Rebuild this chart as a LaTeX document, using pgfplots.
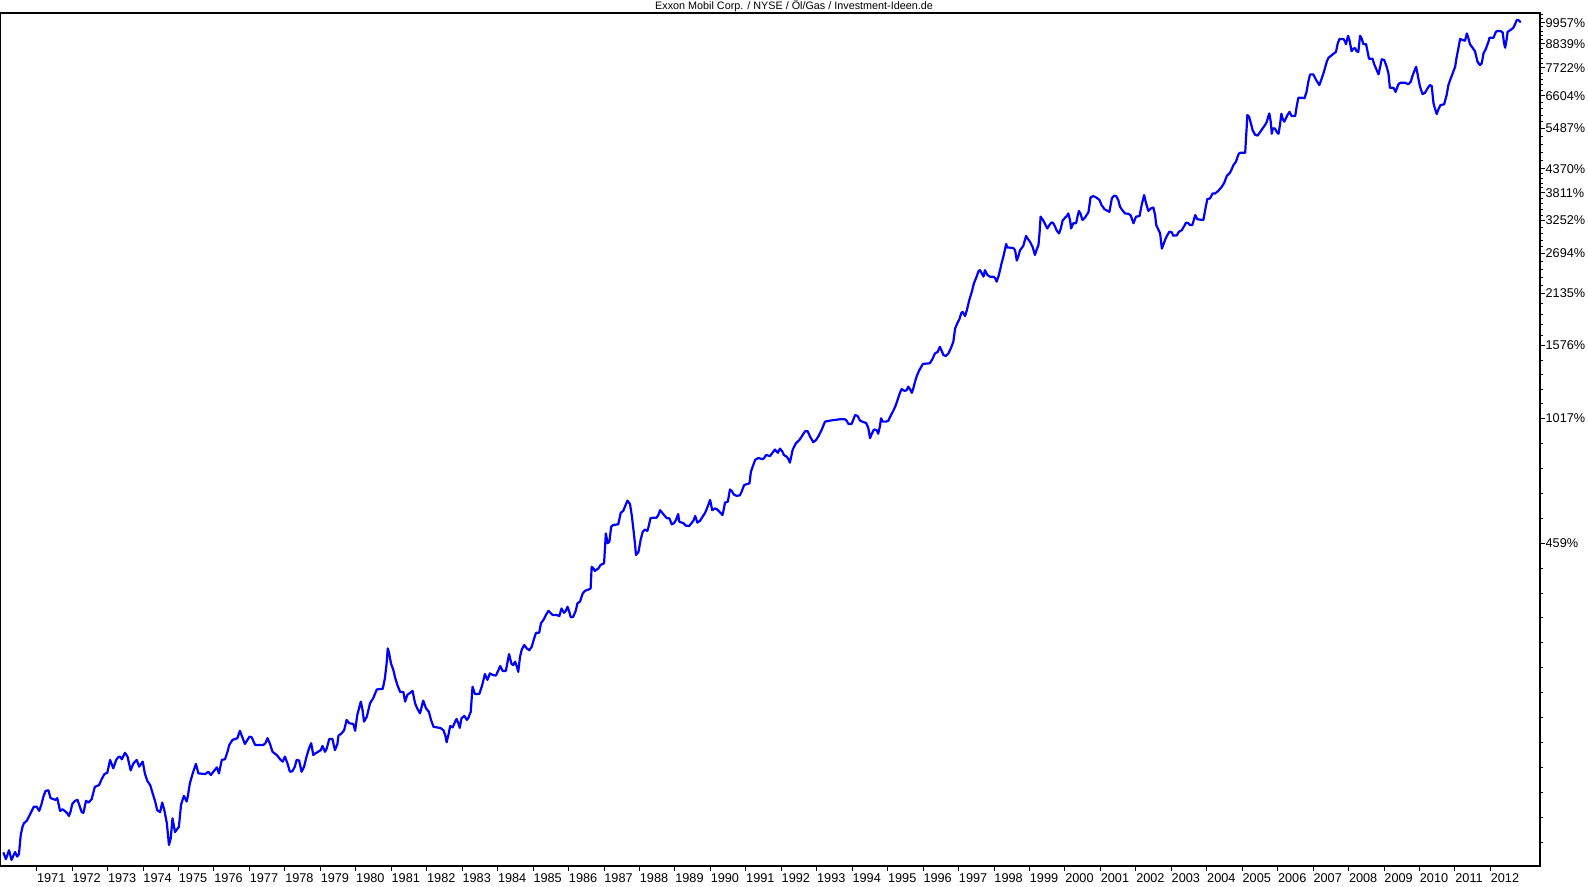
\documentclass[border=0pt]{standalone}
\usepackage{pgfplots}
\usepackage{pgfplotstable}
\pgfplotsset{compat=1.18}
\usepackage{fontspec}
\setmainfont{Liberation Sans}
\definecolor{kursblau}{RGB}{0,0,255}

% index value = 100 + performance in percent (start = 100)
\pgfplotstableread{
year idx
1970.06 100.4
1970.13 96.7
1970.22 101.6
1970.29 96.3
1970.39 100.6
1970.45 98.1
1970.50 99.5
1970.55 110.6
1970.60 115.7
1970.64 118.0
1970.72 119.7
1970.79 122.9
1970.86 126.4
1970.92 129.4
1971.00 129.4
1971.07 126.4
1971.13 130.7
1971.19 136.9
1971.25 141.2
1971.33 141.8
1971.39 135.7
1971.53 134.4
1971.58 135.7
1971.66 126.4
1971.73 127.6
1971.85 125.1
1971.91 122.9
1971.96 126.4
1972.00 131.2
1972.08 133.7
1972.15 134.4
1972.20 130.7
1972.27 125.5
1972.32 125.1
1972.39 133.7
1972.46 132.4
1972.55 134.9
1972.64 144.5
1972.76 145.9
1972.83 150.7
1972.91 155.1
1972.99 156.2
1973.07 167.8
1973.16 160.1
1973.24 167.8
1973.30 170.3
1973.35 170.9
1973.40 168.4
1973.49 174.6
1973.56 170.9
1973.65 158.4
1973.73 164.7
1973.82 167.8
1973.89 161.6
1973.99 166.2
1974.05 155.7
1974.12 149.3
1974.20 145.9
1974.27 139.4
1974.34 133.2
1974.40 126.9
1974.48 125.5
1974.54 132.4
1974.60 126.9
1974.67 118.0
1974.73 104.6
1974.78 108.6
1974.83 121.3
1974.90 112.4
1975.01 115.7
1975.07 130.7
1975.15 137.4
1975.23 133.2
1975.26 136.9
1975.32 147.4
1975.40 155.7
1975.49 164.1
1975.56 155.7
1975.75 155.1
1975.84 157.1
1975.91 154.3
1976.08 161.0
1976.14 155.7
1976.22 167.8
1976.31 168.4
1976.38 175.5
1976.43 182.3
1976.52 187.5
1976.66 189.3
1976.73 197.2
1976.81 189.3
1976.87 183.3
1977.00 190.9
1977.06 190.4
1977.16 182.3
1977.39 182.3
1977.45 184.1
1977.51 189.3
1977.58 183.3
1977.65 175.5
1977.77 172.4
1977.88 167.8
1977.94 166.2
1978.00 170.9
1978.07 164.7
1978.14 157.1
1978.21 157.6
1978.28 161.6
1978.33 167.8
1978.40 167.2
1978.47 157.1
1978.54 161.6
1978.61 170.9
1978.68 178.9
1978.74 184.1
1978.80 172.4
1978.86 174.0
1979.01 177.1
1979.06 181.3
1979.13 175.5
1979.18 178.9
1979.25 188.5
1979.34 188.5
1979.41 177.1
1979.48 183.3
1979.51 192.0
1979.60 194.5
1979.67 197.9
1979.74 209.5
1979.81 205.7
1979.93 204.8
1979.98 197.2
1980.04 215.3
1980.14 231.9
1980.19 221.1
1980.23 207.5
1980.31 213.3
1980.40 229.8
1980.49 236.3
1980.59 248.1
1980.76 249.0
1980.82 264.1
1980.87 287.9
1980.90 311.6
1980.94 303.0
1980.99 286.9
1981.06 276.1
1981.10 266.4
1981.17 254.4
1981.25 244.6
1981.34 244.6
1981.39 231.9
1981.45 240.6
1981.60 246.1
1981.67 229.8
1981.73 223.3
1981.81 217.3
1981.90 233.2
1981.98 223.3
1982.06 219.1
1982.12 209.5
1982.19 201.7
1982.39 200.2
1982.47 197.9
1982.52 192.7
1982.56 185.1
1982.61 192.7
1982.66 202.5
1982.73 201.0
1982.80 207.5
1982.84 210.7
1982.89 205.7
1982.93 200.5
1982.98 211.5
1983.06 214.2
1983.13 209.5
1983.17 211.5
1983.24 219.1
1983.29 251.9
1983.36 241.9
1983.48 241.9
1983.55 251.9
1983.60 261.6
1983.64 270.3
1983.71 261.6
1983.78 271.3
1983.86 268.9
1983.95 268.0
1984.02 276.1
1984.07 282.6
1984.14 275.0
1984.23 275.0
1984.32 302.0
1984.39 285.8
1984.44 284.2
1984.49 289.6
1984.54 281.5
1984.58 273.6
1984.63 297.6
1984.68 309.8
1984.75 317.6
1984.82 311.6
1984.89 308.5
1984.96 314.5
1985.03 329.7
1985.08 339.8
1985.17 339.8
1985.22 358.3
1985.29 365.0
1985.36 375.1
1985.43 383.8
1985.49 379.7
1985.55 375.1
1985.66 375.1
1985.74 373.1
1985.80 389.1
1985.87 379.7
1985.92 383.8
1985.97 392.8
1986.02 381.8
1986.06 370.5
1986.13 371.6
1986.20 383.8
1986.25 400.4
1986.32 404.1
1986.40 423.0
1986.46 428.9
1986.56 432.1
1986.62 434.5
1986.65 490.4
1986.70 485.9
1986.74 479.1
1986.84 485.9
1986.90 495.2
1987.00 499.9
1987.05 590.2
1987.10 558.7
1987.15 563.8
1987.20 612.4
1987.26 618.4
1987.40 620.7
1987.47 661.7
1987.54 668.8
1987.62 694.9
1987.66 708.0
1987.73 694.9
1987.78 653.6
1987.83 600.8
1987.87 558.7
1987.90 523.4
1987.97 532.2
1988.03 569.1
1988.09 595.3
1988.15 602.8
1988.22 598.4
1988.25 610.3
1988.31 642.0
1988.39 643.9
1988.48 643.9
1988.53 653.6
1988.58 671.2
1988.62 665.0
1988.69 653.6
1988.77 642.0
1988.84 642.0
1988.91 620.7
1988.97 624.4
1989.03 636.0
1989.09 657.2
1989.12 630.0
1989.19 626.5
1989.24 624.4
1989.31 615.9
1989.40 614.9
1989.52 633.5
1989.57 650.1
1989.63 626.5
1989.71 633.5
1989.78 647.7
1989.85 661.7
1989.92 684.3
1989.99 710.7
1990.05 671.2
1990.13 678.0
1990.19 674.1
1990.27 663.2
1990.34 653.6
1990.38 678.0
1990.41 700.2
1990.49 704.0
1990.55 753.2
1990.60 747.0
1990.66 732.5
1990.74 726.5
1990.83 729.5
1990.88 744.0
1990.95 772.1
1991.10 779.5
1991.14 829.9
1991.19 854.5
1991.26 887.4
1991.35 897.3
1991.46 890.8
1991.51 895.7
1991.57 912.0
1991.68 906.4
1991.75 923.3
1991.82 940.0
1991.90 923.3
1991.96 944.9
1992.03 929.2
1992.07 912.0
1992.15 903.6
1992.20 890.8
1992.24 874.1
1992.32 940.0
1992.41 973.5
1992.51 991.6
1992.57 1009.8
1992.67 1041.1
1992.74 1041.1
1992.81 1009.8
1992.90 979.0
1992.98 991.6
1993.04 1009.8
1993.14 1050.9
1993.23 1097.6
1993.37 1103.7
1993.65 1112.3
1993.79 1112.3
1993.84 1103.7
1993.89 1083.4
1993.98 1083.4
1994.08 1138.7
1994.15 1132.6
1994.22 1103.7
1994.31 1095.3
1994.39 1089.3
1994.45 1061.0
1994.50 1000.9
1994.55 1026.2
1994.61 1050.9
1994.69 1046.6
1994.73 1026.2
1994.78 1070.9
1994.81 1118.4
1994.86 1097.6
1994.95 1097.6
1995.02 1103.7
1995.06 1124.6
1995.14 1159
1995.21 1192
1995.27 1233
1995.33 1279
1995.39 1315
1995.47 1302
1995.53 1306
1995.58 1333
1995.63 1313
1995.68 1288
1995.72 1320
1995.77 1371
1995.82 1415
1995.89 1461
1995.99 1512
1996.19 1518
1996.27 1560
1996.33 1603
1996.41 1617
1996.47 1664
1996.52 1626
1996.57 1589
1996.64 1580
1996.71 1603
1996.78 1649
1996.85 1712
1996.90 1841
1996.96 1895
1997.02 1938
1997.07 2002
1997.11 2019
1997.18 1973
1997.23 2037
1997.30 2157
1997.37 2256
1997.43 2367
1997.49 2434
1997.56 2531
1997.60 2545
1997.65 2501
1997.70 2455
1997.74 2545
1997.81 2478
1997.88 2455
1997.98 2455
1998.03 2434
1998.07 2388
1998.12 2455
1998.17 2554
1998.21 2645
1998.26 2743
1998.34 2943
1998.37 2888
1998.54 2878
1998.59 2843
1998.64 2684
1998.68 2743
1998.73 2843
1998.82 2910
1998.90 3077
1998.97 3010
1999.01 2982
1999.09 2888
1999.15 2769
1999.20 2854
1999.25 2927
1999.28 3122
1999.31 3425
1999.39 3350
1999.50 3208
1999.56 3270
1999.62 3320
1999.67 3302
1999.72 3239
1999.76 3177
1999.83 3122
1999.88 3208
1999.93 3350
2000.00 3406
2000.05 3438
2000.09 3488
2000.14 3363
2000.17 3208
2000.23 3302
2000.31 3302
2000.35 3425
2000.39 3536
2000.44 3475
2000.49 3363
2000.56 3406
2000.66 3512
2000.72 3814
2000.80 3841
2000.89 3806
2000.97 3758
2001.03 3654
2001.11 3571
2001.25 3518
2001.32 3793
2001.38 3848
2001.44 3841
2001.50 3758
2001.55 3619
2001.60 3565
2001.69 3488
2001.79 3480
2001.85 3450
2001.93 3302
2002.00 3425
2002.10 3438
2002.16 3654
2002.23 3862
2002.28 3702
2002.35 3536
2002.42 3585
2002.49 3604
2002.54 3456
2002.57 3270
2002.63 3190
2002.68 3122
2002.73 2869
2002.77 2927
2002.82 3010
2002.87 3077
2002.94 3150
2003.01 3140
2003.05 3082
2003.15 3088
2003.21 3150
2003.29 3177
2003.36 3251
2003.41 3313
2003.48 3302
2003.52 3270
2003.59 3270
2003.67 3456
2003.73 3376
2003.90 3363
2003.95 3549
2004.01 3773
2004.09 3793
2004.16 3897
2004.23 3897
2004.32 3952
2004.42 4044
2004.49 4137
2004.56 4293
2004.65 4370
2004.70 4459
2004.75 4563
2004.82 4649
2004.89 4841
2004.93 4883
2005.08 4883
2005.10 5244
2005.12 5590
2005.14 6022
2005.19 5967
2005.24 5753
2005.29 5535
2005.36 5396
2005.43 5373
2005.50 5480
2005.57 5590
2005.64 5698
2005.69 5805
2005.73 5967
2005.76 6077
2005.80 5805
2005.83 5428
2005.86 5590
2005.92 5590
2005.97 5480
2006.02 5428
2006.06 5698
2006.10 6065
2006.14 5893
2006.18 5805
2006.23 5915
2006.27 6022
2006.33 6130
2006.39 5990
2006.49 5990
2006.53 6305
2006.58 6631
2006.67 6631
2006.75 6610
2006.81 6849
2006.86 7248
2006.91 7548
2007.00 7548
2007.08 7317
2007.17 7114
2007.24 7386
2007.30 7654
2007.38 8099
2007.43 8280
2007.55 8434
2007.64 8552
2007.69 8969
2007.74 9186
2007.85 9186
2007.90 9050
2007.92 8919
2007.98 9353
2008.02 9136
2008.08 8584
2008.13 8706
2008.18 8733
2008.22 8584
2008.27 8552
2008.32 9353
2008.37 9186
2008.41 8933
2008.49 8919
2008.57 8235
2008.67 8235
2008.72 7981
2008.79 7723
2008.84 7548
2008.88 7827
2008.93 8208
2009.00 8176
2009.07 7873
2009.12 7589
2009.16 7005
2009.26 7005
2009.32 6849
2009.40 7143
2009.45 7207
2009.59 7207
2009.68 7143
2009.75 7248
2009.79 7451
2009.84 7654
2009.90 7873
2009.96 7410
2010.01 7046
2010.08 6765
2010.15 6813
2010.22 6980
2010.29 7114
2010.34 7074
2010.39 6428
2010.43 6247
2010.48 6055
2010.53 6221
2010.59 6367
2010.69 6392
2010.76 6729
2010.81 7114
2010.86 7317
2010.93 7589
2011.00 7873
2011.04 8280
2011.09 8706
2011.14 9186
2011.21 9136
2011.28 9100
2011.33 9475
2011.37 9252
2011.42 8919
2011.49 8752
2011.56 8584
2011.63 8099
2011.70 7950
2011.75 8025
2011.80 8479
2011.87 8706
2011.94 9050
2011.97 9252
2012.08 9252
2012.15 9556
2012.20 9607
2012.29 9592
2012.34 9526
2012.38 8969
2012.41 8752
2012.45 9136
2012.48 9556
2012.55 9642
2012.64 9773
2012.69 9966
2012.74 10209
2012.78 10209
2012.85 10079
}\xomkurs

\begin{document}
\begin{tikzpicture}
\useasboundingbox (0,0) rectangle (794pt,443.5pt);
\begin{axis}[
    at={(0pt,10.5pt)}, anchor=south west,
    scale only axis, width=770pt, height=426.5pt,
    xmin=1969.965, xmax=2013.394,
    ymode=log, ymin=93.1, ymax=10614,
    axis line style={line width=0.65pt},
    tick align=outside,
    xtick pos=bottom, ytick pos=right,
    major tick length=2.6pt, minor tick length=1.6pt,
    every tick/.style={black, line width=0.5pt},
    xtick={1971,1972,...,2012},
    xticklabels={1971,1972,1973,1974,1975,1976,1977,1978,1979,1980,1981,1982,1983,1984,1985,1986,1987,1988,1989,1990,1991,1992,1993,1994,1995,1996,1997,1998,1999,2000,2001,2002,2003,2004,2005,2006,2007,2008,2009,2010,2011,2012},
    xticklabel style={anchor=north west, inner sep=0pt, yshift=-1pt, font=\fontsize{6.35}{7}\selectfont},
    ytick={559,1117,1676,2235,2794,3352,3911,4470,5587,6704,7822,8939,10057},
    yticklabels={459\%,1017\%,1576\%,2135\%,2694\%,3252\%,3811\%,4370\%,5487\%,6604\%,7722\%,8839\%,9957\%},
    yticklabel style={anchor=west, inner sep=0pt, font=\fontsize{6.35}{7}\selectfont},
    minor ytick={106.2,121.9,140.0,160.8,184.7,212.1,243.6,279.8,321.3,369.0,423.8,486.7,
      642.0,737.3,846.8,972.5,1211.4,1313.7,1424.7,1545.1,1775.3,1880.5,1991.9,2109.9,
      2337.1,2443.8,2555.4,2672.1,2897.6,3005.0,3116.5,3232.1,3457.0,3565.3,3676.9,3792.1,
      4016.9,4125.6,4237.3,4352.0,4673.9,4887.1,5110.0,5343.1,5794.4,6009.6,6232.8,6464.2,
      6914.0,7130.5,7353.8,7584.1,8033.6,8250.9,8474.1,8703.4,9152.2,9370.5,9594.0,9822.8,
      10296.9,10542.5},
]
\addplot[kursblau, line width=1.1pt, line join=round] table[x=year, y=idx] {\xomkurs};
\end{axis}
\node[anchor=base, inner sep=0pt, font=\fontsize{5.4}{6}\selectfont] at (397pt,438.5pt)
  {Exxon Mobil Corp. / NYSE / Öl/Gas / Investment-Ideen.de};
\end{tikzpicture}
\end{document}
